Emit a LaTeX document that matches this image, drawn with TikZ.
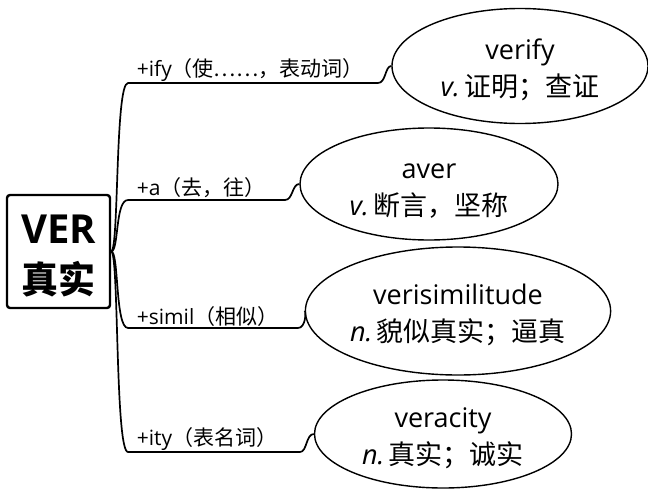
\documentclass[tikz,border=0pt]{standalone}
\usepackage{fontspec}
\setmainfont{Open Sans}
\newfontfamily\cjk{Noto Sans CJK SC}
\usetikzlibrary{shapes.geometric}
\newcommand{\topgap}[1]{\rule{0pt}{#1}}
\begin{document}
\begin{tikzpicture}[x=1pt, y=-1pt, line join=round,
    word/.style={ellipse, draw, line width=1.4pt, inner sep=0pt, align=center, font=\fontsize{27}{37}\selectfont},
    branch/.style={draw, line width=1.7pt},
    lab/.style={anchor=south west, inner sep=1pt, xshift=7pt, font=\fontsize{21}{21}\selectfont}]
    \useasboundingbox (0,0) rectangle (648,490);
    \node[draw, line width=2.4pt, rounded corners=3pt, minimum width=103pt, minimum height=113pt, inner sep=0pt, align=center, font=\fontsize{40}{50}\selectfont\bfseries] (root) at (58.5,251.5) {\topgap{37pt}VER\\{\cjk\fontsize{37}{50}\selectfont 真实}};
    \node[word, minimum width=256pt, minimum height=115pt] (verify) at (520,66) {\topgap{28pt}verify\\\textit{v.}\,{\cjk 证明；查证}};
    \node[word, minimum width=258pt, minimum height=112pt] (aver) at (429,184) {\topgap{28pt}aver\\\textit{v.}\,{\cjk 断言，坚称}};
    \node[word, minimum width=287pt, minimum height=128pt] (verisim) at (458,311) {\topgap{28pt}verisimilitude\\\textit{n.}\,{\cjk 貌似真实；逼真}};
    \node[word, minimum width=257pt, minimum height=108pt] (veracity) at (443,434) {\topgap{28pt}veracity\\\textit{n.}\,{\cjk 真实；诚实}};
    \draw[branch] (root.east) .. controls (119,251) and (115,83) .. (128,83) -- node[lab, pos=0] {+ify{\cjk （使……，表动词）}} (378,83) .. controls (386,83) and (385,66) .. (verify.west);
    \draw[branch] (root.east) .. controls (119,251) and (115,200) .. (128,200) -- node[lab, pos=0] {+a{\cjk （去，往）}} (285,200) .. controls (293,200) and (292,184) .. (aver.west);
    \draw[branch] (root.east) .. controls (119,251) and (115,328) .. (128,328) -- node[lab, pos=0] {+simil{\cjk （相似）}} (298,328) .. controls (306,328) and (306,311) .. (verisim.west);
    \draw[branch] (root.east) .. controls (119,251) and (115,452) .. (128,452) -- node[lab, pos=0] {+ity{\cjk （表名词）}} (300,452) .. controls (307,452) and (306,434) .. (veracity.west);
\end{tikzpicture}
\end{document}
